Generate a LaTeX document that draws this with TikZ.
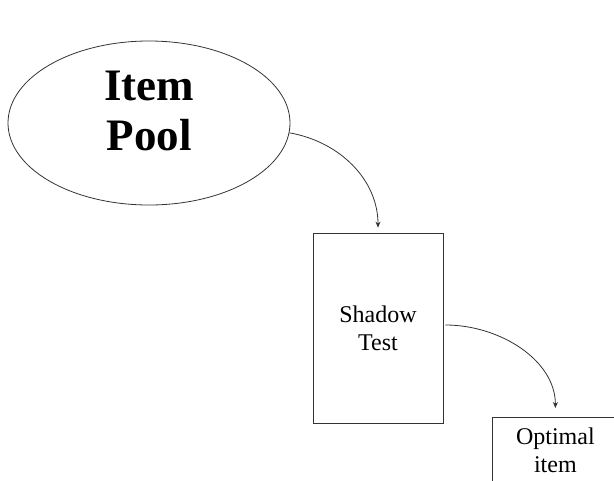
\documentclass[tikz,border=0pt]{standalone}
\usepackage{fontspec}
\setmainfont{Liberation Serif}
\usetikzlibrary{shapes.geometric,arrows.meta}
\begin{document}
\begin{tikzpicture}
      [x=1pt,y=-1pt,
      every node/.style={line width=0.8pt,inner sep=0pt,align=center},
      pool/.style={draw=black!80,ellipse,minimum width=282pt,minimum height=164pt},
      pooltext/.style={font=\fontsize{45}{50}\selectfont\bfseries},
      box/.style={draw=black!80,rectangle,font=\fontsize{24}{28}\selectfont},
      flow/.style={draw=black!80,line width=0.8pt,-{Stealth[length=6pt,width=5pt]}}]
      \useasboundingbox (0,0) rectangle (614,480);
      \node[pool] (pool) at (149,123) {};
      \node[pooltext] (pool text) at (149,111) {Item\\Pool};
      \node[box,minimum width=130pt,minimum height=190pt] (shadow) at (378,328) {Shadow\\Test};
      \node[box,minimum width=126pt,minimum height=66pt,anchor=north west] (optimal) at (492,417) {Optimal\\item};
      \draw[flow,shorten >=5pt] (pool.-4) to[out=-10,in=90] (shadow.north);
      \draw[flow,shorten <=2pt,shorten >=9pt] ([yshift=3pt]shadow.east) to[out=0,in=90] (optimal.north);
\end{tikzpicture}
\end{document}
